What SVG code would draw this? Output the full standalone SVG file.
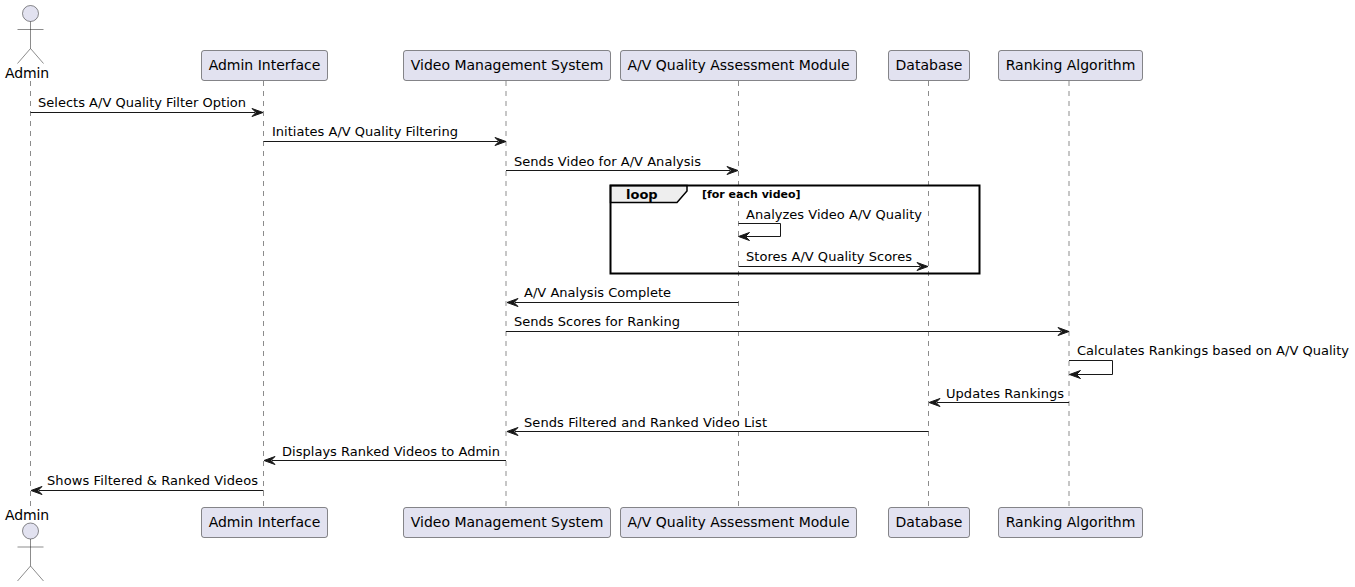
<svg xmlns="http://www.w3.org/2000/svg" width="1355" height="587" viewBox="0 0 1355 587">
<style>
text{font-family:"DejaVu Sans",sans-serif;fill:#000}
.m{font-size:13px}
.p{font-size:14px}
.b{fill:#E2E2F0;stroke:#181818;stroke-width:.5}
.ll{stroke:#181818;stroke-width:.5;stroke-dasharray:5,5;fill:none}
.a{stroke:#181818;stroke-width:1;fill:none}
.h{fill:#181818;stroke:#181818;stroke-width:1}
.act{fill:#E2E2F0;stroke:#181818;stroke-width:.5}
.actl{fill:none;stroke:#181818;stroke-width:.5}
</style>
<defs>
<polygon id="r" points="-11,-4 0,0 -11,4 -7,0"/>
<polygon id="l" points="11,-4 0,0 11,4 7,0"/>
<g id="actor"><circle class="act" cx="0" cy="13" r="8"/><path class="actl" d="M0,21V48M-13,29H13M0,48L-13,63M0,48L13,63"/></g>
</defs>
<g id="lifelines">
<path class="ll" d="M30.5,81V507"/><path class="ll" d="M263.5,81V507"/><path class="ll" d="M506,81V507"/><path class="ll" d="M738.5,81V507"/><path class="ll" d="M928.5,81V507"/><path class="ll" d="M1069,81V507"/>
</g>
<g id="actor-admin-top"><use href="#actor" transform="translate(30.5,0.5)"/><text class="p" x="5" y="78" textLength="44">Admin</text></g>
<g id="actor-admin-bottom"><text class="p" x="5" y="520" textLength="44">Admin</text><use href="#actor" transform="translate(30.5,518)"/></g>
<g id="p-admin-interface-top"><rect class="b" x="201.500" y="50.500" width="126" height="30" rx="2.500"/><text class="p" x="264.500" y="70" text-anchor="middle">Admin Interface</text></g>
<g id="p-vms-top"><rect class="b" x="403.500" y="50.500" width="207" height="30" rx="2.500"/><text class="p" x="507" y="70" text-anchor="middle">Video Management System</text></g>
<g id="p-avq-top"><rect class="b" x="620.500" y="50.500" width="236" height="30" rx="2.500"/><text class="p" x="738.500" y="70" text-anchor="middle">A/V Quality Assessment Module</text></g>
<g id="p-db-top"><rect class="b" x="888.500" y="50.500" width="81" height="30" rx="2.500"/><text class="p" x="929" y="70" text-anchor="middle">Database</text></g>
<g id="p-rank-top"><rect class="b" x="998.500" y="50.500" width="144" height="30" rx="2.500"/><text class="p" x="1070.500" y="70" text-anchor="middle">Ranking Algorithm</text></g>
<g id="p-admin-interface-bottom"><rect class="b" x="201.500" y="507.500" width="126" height="30" rx="2.500"/><text class="p" x="264.500" y="527" text-anchor="middle">Admin Interface</text></g>
<g id="p-vms-bottom"><rect class="b" x="403.500" y="507.500" width="207" height="30" rx="2.500"/><text class="p" x="507" y="527" text-anchor="middle">Video Management System</text></g>
<g id="p-avq-bottom"><rect class="b" x="620.500" y="507.500" width="236" height="30" rx="2.500"/><text class="p" x="738.500" y="527" text-anchor="middle">A/V Quality Assessment Module</text></g>
<g id="p-db-bottom"><rect class="b" x="888.500" y="507.500" width="81" height="30" rx="2.500"/><text class="p" x="929" y="527" text-anchor="middle">Database</text></g>
<g id="p-rank-bottom"><rect class="b" x="998.500" y="507.500" width="144" height="30" rx="2.500"/><text class="p" x="1070.500" y="527" text-anchor="middle">Ranking Algorithm</text></g>
<g id="loop-frame">
<path d="M610.500,185.500H687V191L677,202.500H610.500Z" fill="#EEEEEE" stroke="#000" stroke-width="1.500"/>
<rect x="610.500" y="185.500" width="369" height="88" fill="none" stroke="#000" stroke-width="2"/>
<text x="626" y="199" font-size="13" font-weight="700">loop</text>
<text x="702" y="198" font-size="11" font-weight="700">[for each video]</text>
</g>
<g id="connectors">
<path class="a" d="M30.500,112.500H255"/><use class="h" href="#r" x="263" y="112.500"/>
<path class="a" d="M263.500,141.500H498"/><use class="h" href="#r" x="506" y="141.500"/>
<path class="a" d="M506,170.500H730"/><use class="h" href="#r" x="738" y="170.500"/>
<path class="a" d="M738.500,223.500H780.500V236.500H746"/><use class="h" href="#l" x="738.500" y="236.500"/>
<path class="a" d="M738.500,266.500H920"/><use class="h" href="#r" x="928" y="266.500"/>
<path class="a" d="M738.500,302.500H515"/><use class="h" href="#l" x="507" y="302.500"/>
<path class="a" d="M506,331.500H1061"/><use class="h" href="#r" x="1069" y="331.500"/>
<path class="a" d="M1069,360.500H1112.500V374.500H1077"/><use class="h" href="#l" x="1069.500" y="374.500"/>
<path class="a" d="M1069,402.500H937"/><use class="h" href="#l" x="929" y="402.500"/>
<path class="a" d="M928.500,431.500H515"/><use class="h" href="#l" x="507" y="431.500"/>
<path class="a" d="M506,460.500H272"/><use class="h" href="#l" x="264" y="460.500"/>
<path class="a" d="M263.500,490.500H39"/><use class="h" href="#l" x="31" y="490.500"/>
</g>
<g id="labels">
<text class="m" x="38" y="107" textLength="208">Selects A/V Quality Filter Option</text>
<text class="m" x="272" y="136" textLength="186">Initiates A/V Quality Filtering</text>
<text class="m" x="514" y="166" textLength="187">Sends Video for A/V Analysis</text>
<text class="m" x="746" y="219" textLength="176">Analyzes Video A/V Quality</text>
<text class="m" x="746" y="261" textLength="166">Stores A/V Quality Scores</text>
<text class="m" x="524" y="297" textLength="147">A/V Analysis Complete</text>
<text class="m" x="514" y="326" textLength="166">Sends Scores for Ranking</text>
<text class="m" x="1077" y="355" textLength="272">Calculates Rankings based on A/V Quality</text>
<text class="m" x="946" y="398" textLength="118">Updates Rankings</text>
<text class="m" x="524" y="427" textLength="243">Sends Filtered and Ranked Video List</text>
<text class="m" x="282" y="456" textLength="218">Displays Ranked Videos to Admin</text>
<text class="m" x="47" y="485" textLength="211">Shows Filtered &amp; Ranked Videos</text>
</g>
</svg>
